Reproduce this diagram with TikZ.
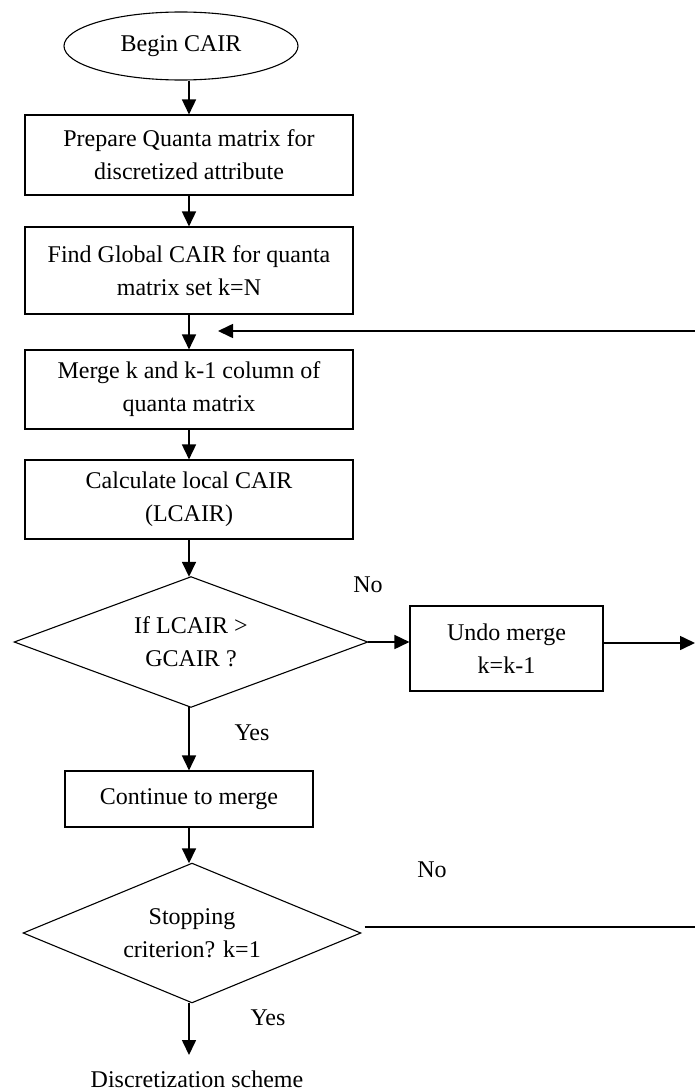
\documentclass[tikz,border=0pt]{standalone}
\usepackage{fontspec}
\setmainfont{Liberation Serif}
\usetikzlibrary{shapes.geometric,arrows.meta,calc}
\begin{document}
\begin{tikzpicture}[x=1pt,y=-1pt,
  every node/.style={font=\fontsize{24}{33}\selectfont, align=center, inner sep=0pt},
  box/.style={draw, line width=1.1pt, rectangle},
  diaarea/.style={rectangle},
  diaedge/.style={line width=1.1pt, line join=miter},
  arr/.style={line width=1.6pt, -{Triangle[length=15pt,width=14pt]}},
  plain/.style={line width=1.3pt}]
\useasboundingbox (0,0) rectangle (695,1092);
\node[draw, line width=1.1pt, ellipse, minimum width=234pt, minimum height=68pt] (start) at (181,46) {Begin CAIR};
\node[box, minimum width=328pt, minimum height=80pt] (b1) at (189,155) {Prepare Quanta matrix for\\discretized attribute};
\node[box, minimum width=328pt, minimum height=87pt] (b2) at (189,270.5) {Find Global CAIR for quanta\\matrix set k=N};
\node[box, minimum width=328pt, minimum height=79pt] (b3) at (189,389.5) {Merge k and k-1 column of\\quanta matrix};
\node[box, minimum width=328pt, minimum height=79pt] (b4) at (189,499.5) {Calculate local CAIR\\(LCAIR)};
\node[diaarea, minimum width=353pt, minimum height=130pt] (d1) at (191,642) {If LCAIR >\\GCAIR ?};
\draw[diaedge] (d1.north) -- (d1.east) -- (d1.south) -- (d1.west) -- cycle;
\node[box, minimum width=193pt, minimum height=85pt] (undo) at (506.5,648.5) {Undo merge\\k=k-1};
\node[box, minimum width=248pt, minimum height=56pt] (cont) at (189,799) {Continue to merge};
\node[diaarea, minimum width=337pt, minimum height=139pt] (d2) at (192,933) {Stopping\\criterion? k=1};
\draw[diaedge] (d2.north) -- (d2.east) -- (d2.south) -- (d2.west) -- cycle;
\node (end) at (197,1079) {Discretization scheme};
\node (no1) at (368,585) {No};
\node (yes1) at (252,733) {Yes};
\node (no2) at (432,870) {No};
\node (yes2) at (268,1018) {Yes};
\coordinate (fbstart) at (695,331);
\coordinate (fbtip) at (218,331);
\coordinate (undoout) at (695,643);
\coordinate (stopout) at (695,927);
\coordinate (endtip) at (189,1055);
\draw[arr] (start.south -| b1.north) -- (b1.north);
\draw[arr] (b1) -- (b2);
\draw[arr] (b2) -- (b3);
\draw[arr] (fbstart) -- (fbtip);
\draw[arr] (b3) -- (b4);
\draw[arr] (b4.south) -- (d1.north -| b4.south);
\draw[arr] (d1.east) -- (undo.west |- d1.east);
\draw[arr] (undo.east |- undoout) -- (undoout);
\draw[arr] (d1.south -| cont.north) -- (cont.north);
\draw[arr] (cont.south) -- (d2.north -| cont.south);
\draw[plain] ($(d2.east)+(4,-6)$) -- (stopout);
\draw[arr] (d2.south -| endtip) -- (endtip);
\end{tikzpicture}
\end{document}
